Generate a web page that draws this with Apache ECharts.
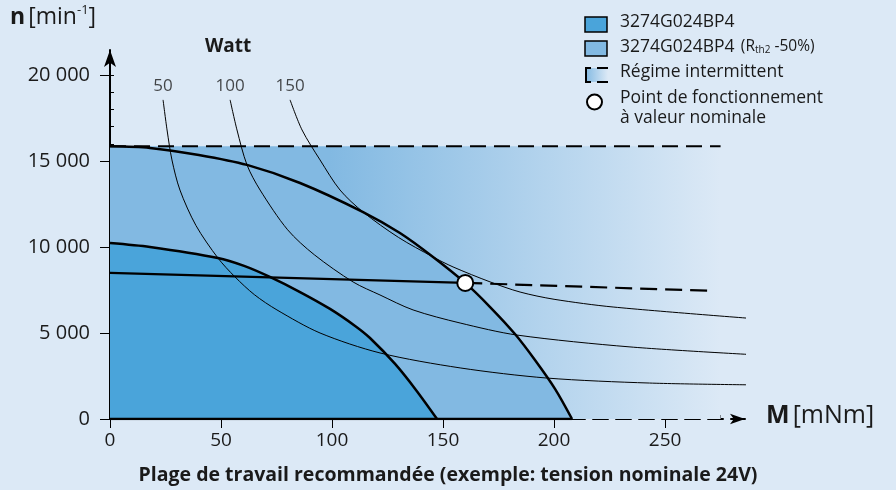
<!DOCTYPE html>
<html><head><meta charset="utf-8">
<script src="https://cdn.jsdelivr.net/npm/echarts@6/dist/echarts.min.js"></script>
<style>html,body{margin:0;padding:0;background:#dce9f6}#c{width:896px;height:490px}</style>
</head><body><div id="c"></div>
<script>
// ---- data ----
const xTicks = [0, 50, 100, 150, 200, 250];
const xMinorTicks = [0, 25, 50, 75, 100, 125, 150, 175, 200, 225, 250, 275];
const yTicks = [0, 5000, 10000, 15000, 20000];
const yTickLabels = ['0', '5 000', '10 000', '15 000', '20 000'];
const yMinorTicks = [0,1000,2000,3000,4000,5000,6000,7000,8000,9000,10000,11000,12000,13000,14000,15000,16000,17000,18000,19000,20000];

const intermittentTop = [[0, 15850], [275, 15850]];
const curveRth2 = [[0,15850],[18,15760],[40,15350],[61.7,14770],[85.6,13720],[114,12030],[130.6,10810],[145.5,9420],[160,7910],[171.2,6510],[182.4,4940],[191.4,3430],[200.5,1740],[208.1,0]];
const curveNominal = [[0,10230],[18,10000],[48.6,9360],[60.4,8900],[72,8260],[85.6,7380],[99.1,6400],[110.4,5410],[117.1,4710],[128.4,3200],[137.8,1690],[147.3,0]];
const watt50 = [[23.9,18550],[25.7,16800],[27.9,15060],[31.5,13310],[38.7,11250],[48.6,9360],[56.3,8260],[65,7230],[75.2,6340],[94.6,5000],[121.6,3840],[157.7,2970],[196.8,2380],[243,2090],[292,1980]];
const watt100 = [[54.1,18550],[57.2,16800],[61.7,14770],[67.6,13310],[80,11000],[92,9550],[109.5,7965],[121.6,7210],[136.5,6340],[157.7,5580],[183.3,4880],[234.2,4190],[292.3,3720]];
const watt150 = [[81.1,18550],[86.5,16800],[94.6,15060],[103.6,13310],[114,12030],[130,10550],[145.5,9420],[154.5,8840],[171.2,7970],[184.7,7380],[200,6960],[226.6,6510],[292.3,5810]];
const wattNames = ['50', '100', '150'];
const unSolid = [[0, 8490], [160, 7910]];
const unDashed = [[160, 7910], [271, 7450]];
const operatingPoint = [[160, 7910]];
const xAxisSolid = [[0, 0], [208, 0]];

const BG = '#dce9f6', DARK = '#4aa4da', LIGHT = '#82b9e2';
const FONT = '"Open Sans", "Noto Sans", sans-serif';

const chart = echarts.init(document.getElementById('c'));

function curve(data, width, z, area) {
  const s = { type: 'line', data: data, smooth: 0.3, showSymbol: false, symbol: 'none', z: z,
    lineStyle: { color: '#000', width: width }, silent: true };
  if (area) s.areaStyle = { color: area, opacity: 1 };
  return s;
}

const wattLabelPts = [watt50[0], watt100[0], watt150[0]].map((p, i) => ({ value: p, label: { formatter: wattNames[i] } }));

chart.setOption({
  backgroundColor: BG,
  animation: false,
  grid: { left: 110, right: 151, top: 50, bottom: 71 },
  xAxis: [{
    type: 'value', min: 0, max: 286,
    axisLine: { show: true, symbol: ['none', 'arrow'], symbolSize: [8, 15], lineStyle: { color: '#000', width: 2, type: [15, 8] } },
    axisTick: { show: true, customValues: xTicks, length: 9, lineStyle: { color: '#000', width: 1 } },
    axisLabel: { customValues: xTicks, margin: 12, fontSize: 19, color: '#1a1a1a', fontFamily: FONT },
    splitLine: { show: false }
  }, {
    type: 'value', min: 0, max: 286, position: 'bottom', offset: 0,
    axisLine: { show: false },
    axisTick: { show: true, customValues: xMinorTicks, inside: true, length: 4, lineStyle: { color: '#000', width: 1 } },
    axisLabel: { show: false }, splitLine: { show: false }
  }],
  yAxis: [{
    type: 'value', min: 0, max: 21450,
    axisLine: { show: true, symbol: ['none', 'arrow'], symbolSize: [9, 17], lineStyle: { color: '#000', width: 2 } },
    axisTick: { show: true, customValues: yTicks, length: 10, lineStyle: { color: '#000', width: 1 } },
    axisLabel: { customValues: yTicks, margin: 20, fontSize: 20, color: '#1a1a1a', fontFamily: FONT,
      formatter: v => yTickLabels[yTicks.indexOf(v)] },
    splitLine: { show: false }
  }, {
    type: 'value', min: 0, max: 21450, position: 'left', offset: 0,
    axisLine: { show: false },
    axisTick: { show: true, customValues: yMinorTicks, inside: true, length: 4, lineStyle: { color: '#000', width: 1 } },
    axisLabel: { show: false }, splitLine: { show: false }
  }],
  series: [
    { type: 'line', data: intermittentTop, showSymbol: false, symbol: 'none', z: 1,
      lineStyle: { width: 0 },
      areaStyle: { opacity: 1, color: new echarts.graphic.LinearGradient(0, 0, 1, 0, [
        { offset: 0, color: LIGHT }, { offset: 0.36, color: LIGHT }, { offset: 1, color: BG }]) } },
    curve(curveRth2, 2.5, 2, LIGHT),
    curve(curveNominal, 2.5, 3, DARK),
    curve(watt50, 1, 5), curve(watt100, 1, 5), curve(watt150, 1, 5),
    { type: 'line', data: unSolid, showSymbol: false, symbol: 'none', z: 6, lineStyle: { color: '#000', width: 2.2 } },
    { type: 'line', data: unDashed, showSymbol: false, symbol: 'none', z: 6, lineStyle: { color: '#000', width: 2.2, type: [17, 8] } },
    { type: 'line', data: intermittentTop, showSymbol: false, symbol: 'none', z: 6, lineStyle: { color: '#000', width: 2, type: [16, 8] } },
    { type: 'line', data: xAxisSolid, showSymbol: false, symbol: 'none', z: 7, lineStyle: { color: '#000', width: 2.5 } },
    { type: 'scatter', data: operatingPoint, symbol: 'circle', symbolSize: 16, z: 8,
      itemStyle: { color: '#ffffff', borderColor: '#000', borderWidth: 2, opacity: 1 } },
    { type: 'scatter', data: wattLabelPts, symbolSize: 1, z: 8, itemStyle: { color: 'transparent' },
      label: { show: true, position: 'top', distance: 5, fontSize: 17, color: '#1a1a1a', fontFamily: FONT } }
  ],
  graphic: [
    { type: 'text', left: 10, top: 4, style: { fontFamily: FONT, fill: '#1a1a1a',
      text: '{b|n} {r|[min}{s|-1}{r|]}',
      rich: { b: { fontSize: 23, fontWeight: 'bold', fontFamily: FONT }, r: { fontSize: 23, fontFamily: FONT },
        s: { fontSize: 13, verticalAlign: 'top', padding: [0, 0, 13, 0], fontFamily: FONT } } } },
    { type: 'text', left: 766, top: 403, style: { fontFamily: FONT, fill: '#1a1a1a',
      text: '{b|M} {r|[mNm]}',
      rich: { b: { fontSize: 25, fontWeight: 'bold', fontFamily: FONT }, r: { fontSize: 25, fontFamily: FONT } } } },
    { type: 'text', left: 205, top: 37, style: { text: 'Watt', fontFamily: FONT, fontSize: 19, fontWeight: 'bold', fill: '#1a1a1a' } },
    { type: 'text', left: 135, top: 249, style: { fontFamily: FONT, fill: '#1a1a1a', text: '{u|U}{n|N}',
      rich: { u: { fontSize: 18, fontFamily: FONT }, n: { fontSize: 12, fontFamily: FONT, padding: [6, 0, 0, 0] } } } },
    { type: 'text', left: 'center', top: 465, style: { text: 'Plage de travail recommandée (exemple: tension nominale 24V)',
      fontFamily: FONT, fontSize: 19.5, fontWeight: 'bold', fill: '#1a1a1a' } },
    // legend
    { type: 'rect', shape: { x: 585, y: 17, width: 22, height: 15 }, style: { fill: DARK, stroke: '#000', lineWidth: 1.5 } },
    { type: 'rect', shape: { x: 585, y: 41, width: 22, height: 15 }, style: { fill: LIGHT, stroke: '#000', lineWidth: 1.5 } },
    { type: 'rect', shape: { x: 585, y: 68, width: 23, height: 14 }, style: { fill: new echarts.graphic.LinearGradient(0, 0, 1, 0, [{ offset: 0, color: LIGHT }, { offset: 1, color: BG }]) } },
    { type: 'polyline', shape: { points: [[591, 68], [586, 68], [586, 82], [591, 82]] }, style: { stroke: '#000', lineWidth: 2, fill: null } },
    { type: 'line', shape: { x1: 597, y1: 68, x2: 608, y2: 68 }, style: { stroke: '#000', lineWidth: 2 } },
    { type: 'line', shape: { x1: 597, y1: 82, x2: 608, y2: 82 }, style: { stroke: '#000', lineWidth: 2 } },
    { type: 'circle', shape: { cx: 594.5, cy: 102, r: 7.5 }, style: { fill: '#fff', stroke: '#000', lineWidth: 2 } },
    { type: 'text', left: 620, top: 13, style: { text: '3274G024BP4', fontFamily: FONT, fontSize: 17.5, fill: '#1a1a1a' } },
    { type: 'text', left: 620, top: 38, style: { fontFamily: FONT, fill: '#1a1a1a', text: '{a|3274G024BP4}  {c|(R}{s|th2}{c| -50%)}',
      rich: { a: { fontSize: 17.5, fontFamily: FONT }, c: { fontSize: 15.5, fontFamily: FONT }, s: { fontSize: 10, fontFamily: FONT, padding: [6, 0, 0, 0] } } } },
    { type: 'text', left: 620, top: 63, style: { text: 'Régime intermittent', fontFamily: FONT, fontSize: 17.5, fill: '#1a1a1a' } },
    { type: 'text', left: 620, top: 88, style: { text: 'Point de fonctionnement\nà valeur nominale', fontFamily: FONT, fontSize: 17.5, lineHeight: 20, fill: '#1a1a1a' } }
  ]
});
</script></body></html>
